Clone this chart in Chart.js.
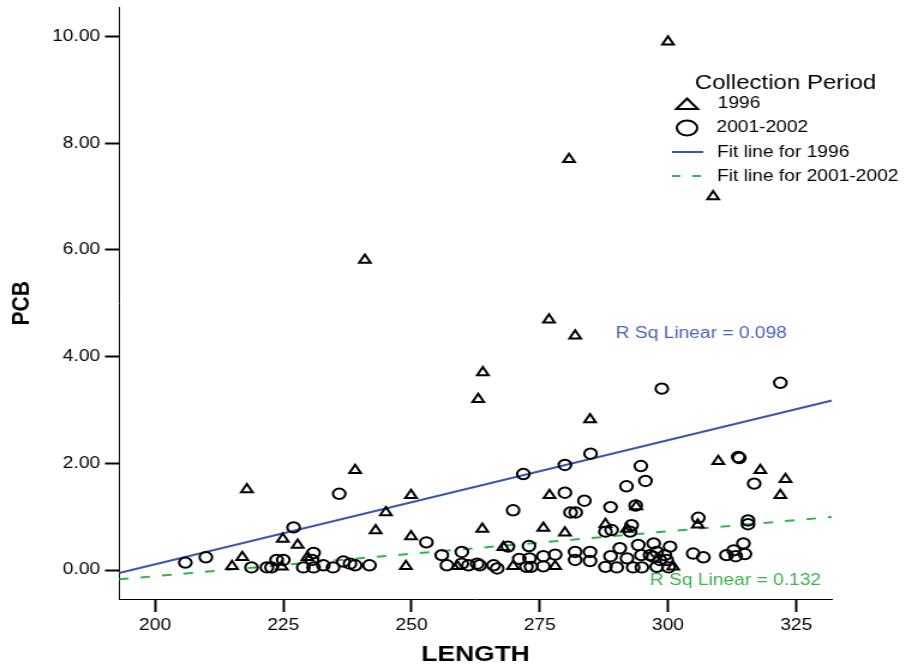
<!DOCTYPE html>
<html>
<head>
<meta charset="utf-8">
<script src="https://cdn.jsdelivr.net/npm/chart.js@4.4.1/dist/chart.umd.min.js"></script>
<style>
html, body { margin: 0; padding: 0; background: #fff; }
#myChart { display: block; }
</style>
</head>
<body>
<canvas id="myChart" width="755" height="669" style="width:906px;height:669px"></canvas>
<script>
// values
const lengths1996 = [300.0, 280.7, 308.8, 240.9, 276.8, 281.9, 263.9, 263.0, 284.8, 309.8,
	318.0, 322.9, 321.9, 239.0, 217.9, 249.9, 276.9, 245.0, 293.8, 243.0,
	263.8, 275.7, 279.9, 287.8, 292.0, 305.8, 249.9, 224.9, 227.8, 217.0,
	229.7, 215.0, 224.7, 248.9, 258.9, 267.9, 269.8, 278.0, 301.0];
const pcb1996 = [9.90, 7.70, 7.00, 5.81, 4.69, 4.39, 3.70, 3.20, 2.82, 2.04,
	1.87, 1.70, 1.40, 1.87, 1.51, 1.40, 1.40, 1.08, 1.19, 0.74,
	0.77, 0.79, 0.70, 0.86, 0.77, 0.85, 0.63, 0.58, 0.47, 0.24,
	0.24, 0.07, 0.06, 0.07, 0.07, 0.43, 0.07, 0.07, 0.06];

const lengths2001 = [205.9, 209.9, 227.0, 235.9, 218.8, 221.8, 222.7, 223.7, 225.0, 228.9,
	230.6, 230.9, 230.9, 232.8, 234.7, 236.7, 238.0, 239.0, 241.8, 252.9,
	255.9, 259.8, 256.9, 259.8, 261.1, 262.8, 263.3, 266.0, 266.7, 268.8,
	272.9, 269.8, 271.0, 273.0, 275.7, 278.0, 272.4, 273.3, 275.7, 271.8,
	279.9, 279.9, 281.0, 282.0, 283.7, 281.9, 281.9, 284.8, 284.8, 284.9,
	287.8, 288.8, 290.6, 292.0, 290.0, 287.8, 289.0, 292.6, 292.9, 288.8,
	291.9, 294.7, 295.6, 293.7, 294.2, 294.8, 293.2, 296.5, 297.2, 294.9,
	297.8, 297.8, 299.4, 297.1, 298.4, 299.7, 300.1, 300.4, 298.8, 304.9,
	306.9, 305.9, 311.4, 312.8, 313.2, 314.7, 315.0, 315.6, 315.6, 313.7,
	313.9, 316.8, 321.9];
const pcb2001 = [0.14, 0.24, 0.80, 1.43, 0.05, 0.05, 0.05, 0.19, 0.19, 0.05,
	0.19, 0.32, 0.05, 0.09, 0.05, 0.16, 0.12, 0.09, 0.09, 0.52,
	0.28, 0.34, 0.09, 0.12, 0.09, 0.12, 0.09, 0.09, 0.03, 0.44,
	0.45, 1.12, 0.21, 0.22, 0.26, 0.29, 0.06, 0.06, 0.07, 1.80,
	1.97, 1.45, 1.08, 1.08, 1.30, 0.34, 0.19, 0.34, 0.17, 2.18,
	0.06, 0.26, 0.41, 0.22, 0.05, 0.72, 0.75, 0.72, 0.84, 1.18,
	1.57, 1.95, 1.67, 1.21, 0.47, 0.28, 0.05, 0.28, 0.50, 0.05,
	0.06, 0.34, 0.28, 0.25, 0.19, 0.19, 0.05, 0.44, 3.40, 0.31,
	0.24, 0.98, 0.28, 0.37, 0.26, 0.50, 0.30, 0.93, 0.86, 2.12,
	2.10, 1.62, 3.51];

const xTicks = [200, 225, 250, 275, 300, 325];
const yTicks = [0, 2, 4, 6, 8, 10];
const xRange = [192.98, 331.97];
const yRange = [-0.542, 10.542];

// fit lines: 1996, 2001-2002
const fitIntercepts = [-4.547, -1.796];
const fitSlopes = [0.02327, 0.008407];
const rSquared = [0.098, 0.132];
const seriesNames = ["1996", "2001-2002"];

const blue = "#3b54b2";
const green = "#2fb548";
const font = "'Liberation Sans', Arial, sans-serif";

const toPoints = (xs, ys) => xs.map((x, i) => ({ x: x, y: ys[i] }));
const fitPoints = (k) => xRange.map((x) => ({ x: x, y: fitIntercepts[k] + fitSlopes[k] * x }));

// legend + R Sq labels
const legendPlugin = {
	id: "spss_legend",
	afterDraw: (chart) => {
		const ctx = chart.ctx;
		ctx.save();
		ctx.fillStyle = "#000";
		ctx.strokeStyle = "#000";
		ctx.textBaseline = "middle";
		ctx.textAlign = "left";

		ctx.font = "20px " + font;
		ctx.fillText("Collection Period", 579, 83);

		// triangle
		ctx.lineWidth = 2;
		ctx.beginPath();
		ctx.moveTo(572.5, 98.5);
		ctx.lineTo(581.5, 109);
		ctx.lineTo(563.5, 109);
		ctx.closePath();
		ctx.stroke();
		// circle
		ctx.beginPath();
		ctx.ellipse(572.5, 128, 8.5, 7.5, 0, 0, Math.PI * 2);
		ctx.stroke();

		ctx.font = "16px " + font;
		ctx.fillText(seriesNames[0], 598, 104);
		ctx.fillText(seriesNames[1], 597, 128);

		ctx.strokeStyle = blue;
		ctx.lineWidth = 2;
		ctx.beginPath();
		ctx.moveTo(560, 152);
		ctx.lineTo(586, 152);
		ctx.stroke();
		ctx.fillText("Fit line for " + seriesNames[0], 597.5, 153);

		ctx.strokeStyle = green;
		ctx.setLineDash([7, 10]);
		ctx.beginPath();
		ctx.moveTo(560, 176);
		ctx.lineTo(586, 176);
		ctx.stroke();
		ctx.setLineDash([]);
		ctx.fillText("Fit line for " + seriesNames[1], 597.5, 177);

		ctx.fillStyle = "#4a62c2";
		ctx.fillText("R Sq Linear = " + rSquared[0].toFixed(3), 513, 334);
		ctx.fillStyle = "#3cb44b";
		ctx.fillText("R Sq Linear = " + rSquared[1].toFixed(3), 541.5, 581);
		ctx.restore();
	}
};

const ctx = document.getElementById("myChart").getContext("2d");

new Chart(ctx, {
	type: "scatter",
	data: {
		datasets: [
			{
				label: seriesNames[0],
				data: toPoints(lengths1996, pcb1996),
				pointStyle: "triangle",
				pointRadius: 5.5,
				pointBorderWidth: 2,
				pointBorderColor: "#000",
				pointBackgroundColor: "rgba(0,0,0,0)"
			},
			{
				label: seriesNames[1],
				data: toPoints(lengths2001, pcb2001),
				pointStyle: "circle",
				pointRadius: 5.2,
				pointBorderWidth: 2,
				pointBorderColor: "#000",
				pointBackgroundColor: "rgba(0,0,0,0)"
			},
			{
				type: "line",
				label: "Fit line for 1996",
				data: fitPoints(0),
				borderColor: blue,
				borderWidth: 2,
				pointRadius: 0,
				fill: false
			},
			{
				type: "line",
				label: "Fit line for 2001-2002",
				data: fitPoints(1),
				borderColor: green,
				borderWidth: 2,
				borderDash: [8, 10],
				pointRadius: 0,
				fill: false
			}
		]
	},
	plugins: [legendPlugin],
	options: {
		responsive: false,
		animation: false,
		events: [],
		layout: {
			padding: { left: 0, top: 6, right: 61.7, bottom: 0 }
		},
		plugins: {
			legend: { display: false },
			tooltip: { enabled: false }
		},
		scales: {
			x: {
				type: "linear",
				min: xRange[0],
				max: xRange[1],
				afterFit: (scale) => {
					scale.height = 70;
					scale.paddingLeft = 0;
					scale.paddingRight = 0;
				},
				afterBuildTicks: (scale) => { scale.ticks = xTicks.map((v) => ({ value: v })); },
				border: { display: true, color: "#000", width: 1 },
				grid: { drawOnChartArea: false, drawTicks: true, tickLength: 13, tickWidth: 2, tickColor: "#000" },
				ticks: { color: "#000", padding: 4, font: { family: font, size: 16 }, maxRotation: 0 },
				title: {
					display: true,
					text: "LENGTH",
					color: "#000",
					font: { family: font, size: 22, weight: "bold" },
					padding: { top: 0, bottom: 1 }
				}
			},
			y: {
				type: "linear",
				min: yRange[0],
				max: yRange[1],
				afterFit: (scale) => {
					scale.width = 99.2;
					scale.paddingTop = 0;
					scale.paddingBottom = 0;
				},
				afterBuildTicks: (scale) => { scale.ticks = yTicks.map((v) => ({ value: v })); },
				border: { display: true, color: "#000", width: 1 },
				grid: { drawOnChartArea: false, drawTicks: true, tickLength: 11.7, tickWidth: 2, tickColor: "#000" },
				ticks: {
					color: "#000",
					padding: 4,
					font: { family: font, size: 16 },
					callback: (v) => v.toFixed(2)
				},
				title: {
					display: true,
					text: "PCB",
					color: "#000",
					font: { family: font, size: 21, weight: "bold" },
					padding: { top: 5.5, bottom: 0 }
				}
			}
		}
	}
});
</script>
</body>
</html>
